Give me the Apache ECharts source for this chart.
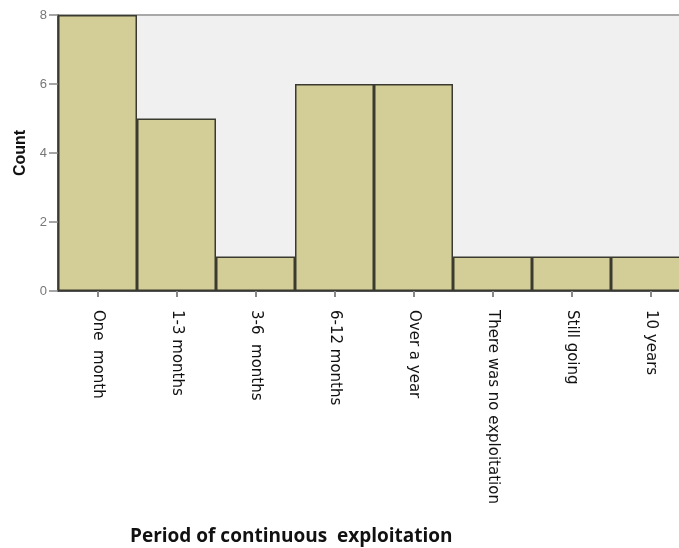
<!DOCTYPE html>
<html>
<head>
<meta charset="utf-8">
<script src="https://cdn.jsdelivr.net/npm/echarts@6/dist/echarts.min.js"></script>
<style>
html,body{margin:0;padding:0;background:#fff;overflow:hidden;width:679px;height:548px;}
#c{width:690px;height:548px;}
</style>
</head>
<body>
<div id="c"></div>
<script>
const categories = ["One  month", "1-3 months", "3-6  months", "6-12 months", "Over a year", "There was no exploitation", "Still going", "10 years"];
const counts = [8, 5, 1, 6, 6, 1, 1, 1];
const yTicks = { min: 0, max: 8, interval: 2 };
const yName = "Count";
const xName = "Period of continuous  exploitation";

const chart = echarts.init(document.getElementById('c'), null, { renderer: 'canvas' });
chart.setOption({
  animation: false,
  backgroundColor: '#ffffff',
  title: {
    text: xName,
    left: 125,
    top: 522,
    textStyle: { fontFamily: 'Open Sans', fontSize: 19, fontWeight: 'bold', color: '#111' }
  },
  grid: {
    left: 58, top: 15, right: 0, bottom: 257,
    show: true, backgroundColor: '#f0f0f0', borderColor: '#a8a8a8', borderWidth: 2
  },
  xAxis: {
    type: 'category',
    data: categories,
    axisLine: { lineStyle: { color: '#333', width: 1.5 } },
    axisTick: { show: true, alignWithLabel: true, length: 6, lineStyle: { color: '#888', width: 2 } },
    axisLabel: {
      rotate: -90, margin: 19, interval: 0,
      fontFamily: 'DejaVu Sans', fontSize: 15, color: '#111'
    }
  },
  yAxis: {
    type: 'value',
    min: yTicks.min, max: yTicks.max, interval: yTicks.interval,
    name: yName,
    nameLocation: 'middle',
    nameGap: 23,
    nameTextStyle: { fontFamily: 'Liberation Sans', fontSize: 16, fontWeight: 'bold', color: '#111' },
    axisLine: { show: true, lineStyle: { color: '#333', width: 1.5 } },
    axisTick: { show: true, length: 9, lineStyle: { color: '#888', width: 1.5 } },
    axisLabel: { fontFamily: 'Liberation Sans', fontSize: 13, color: '#777', margin: 11 },
    splitLine: { show: false }
  },
  series: [{
    type: 'bar',
    data: counts,
    barCategoryGap: '0%',
    itemStyle: { color: '#d3ce97', borderColor: '#3a3a30', borderWidth: 1.5 }
  }]
});
</script>
</body>
</html>
